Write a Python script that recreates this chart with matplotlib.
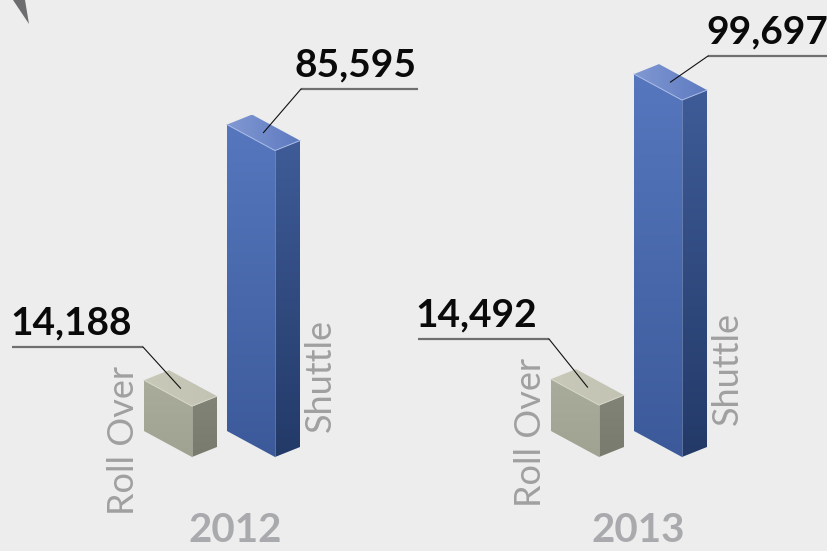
import numpy as np
import matplotlib
matplotlib.use("Agg")
import matplotlib.pyplot as plt
from matplotlib.patches import Polygon
from matplotlib.colors import LinearSegmentedColormap

# --- data ---
years = ["2012", "2013"]
categories = ["Roll Over", "Shuttle"]
values_2012 = [14188, 85595]
values_2013 = [14492, 99697]
value_labels_2012 = ["14,188", "85,595"]
value_labels_2013 = ["14,492", "99,697"]

# --- layout (pixel space, y down) ---
W, H = 827, 551
bg = "#ededed"
px_per_unit = 0.00358
base_y = 431           # front-left bottom corner of every box
group_x = [144, 551]   # left edge of first box in each group
box_offset = [0, 83]   # box offset inside a group
face_w, face_drop = 48, 26
side_w, side_rise = 25, 10

# value label anchors (underline left, underline y, underline right)
label_pos = {
    ("2012", 0): (12, 347, 143),
    ("2012", 1): (301, 89, 418),
    ("2013", 0): (418, 339, 549),
    ("2013", 1): (708, 56, 827),
}
text_x = {
    ("2012", 0): 10,
    ("2012", 1): 294,
    ("2013", 0): 415,
    ("2013", 1): 706,
}
cat_label_pos = {
    ("2012", 0): (134, 515),
    ("2012", 1): (331, 432),
    ("2013", 0): (541, 507),
    ("2013", 1): (738, 425),
}
year_x = [235, 638]

colors = {
    "Shuttle": dict(front=("#5677be", "#3c5a9a"), side=("#3f5c98", "#233a68"),
                    top=("#8199d3", "#5e7ac0"), edge="#a9bbe6"),
    "Roll Over": dict(front=("#a9ab9b", "#a0a292"), side=("#828377", "#7a7b6f"),
                      top=("#c8c9b9", "#c2c3b2"), edge="#d6d7c9"),
}

fig = plt.figure(figsize=(W / 100, H / 100), dpi=100, facecolor=bg)
ax = fig.add_axes([0, 0, 1, 1])
ax.set_facecolor(bg)


def grad_poly(pts, c1, c2, vertical=True, z=2):
    poly = Polygon(pts, closed=True, facecolor="none", edgecolor="none", zorder=z)
    ax.add_patch(poly)
    xs = [p[0] for p in pts]
    ys = [p[1] for p in pts]
    cmap = LinearSegmentedColormap.from_list("g", [c1, c2])
    g = np.linspace(0, 1, 256)
    img = g.reshape(-1, 1) if vertical else g.reshape(1, -1)
    im = ax.imshow(img, cmap=cmap, extent=(min(xs), max(xs), max(ys), min(ys)),
                   origin="upper", aspect="auto", zorder=z, interpolation="bilinear")
    im.set_clip_path(poly)
    return poly


def draw_box(x0, yb, h, cat):
    c = colors[cat]
    yt = yb - h
    front = [(x0, yt), (x0 + face_w, yt + face_drop), (x0 + face_w, yb + face_drop), (x0, yb)]
    side = [(x0 + face_w, yt + face_drop), (x0 + face_w + side_w, yt + face_drop - side_rise),
            (x0 + face_w + side_w, yb + face_drop - side_rise), (x0 + face_w, yb + face_drop)]
    top = [(x0, yt), (x0 + side_w, yt - side_rise),
           (x0 + face_w + side_w, yt + face_drop - side_rise), (x0 + face_w, yt + face_drop)]
    grad_poly(front, *c["front"], vertical=True)
    grad_poly(side, *c["side"], vertical=True)
    grad_poly(top, *c["top"], vertical=False)
    # light highlight edges
    ax.plot([top[0][0], top[3][0], top[2][0]], [top[0][1], top[3][1], top[2][1]],
            color=c["edge"], lw=0.7, zorder=3)
    ax.plot([top[3][0], front[2][0]], [top[3][1], front[2][1]], color=c["edge"], lw=0.5, alpha=0.6, zorder=3)
    cx = sum(p[0] for p in top) / 4
    cy = sum(p[1] for p in top) / 4
    return cx, cy


for gi, (yr, vals, labs) in enumerate(zip(years, [values_2012, values_2013],
                                          [value_labels_2012, value_labels_2013])):
    for ci, (cat, v, lab) in enumerate(zip(categories, vals, labs)):
        x0 = group_x[gi] + box_offset[ci]
        cx, cy = draw_box(x0, base_y, v * px_per_unit, cat)
        lx, ly, rx = label_pos[(yr, ci)]
        # underline + leader to top face
        ax.plot([lx, rx], [ly, ly], color="#6f6f6f", lw=1.6, zorder=4, solid_capstyle="butt")
        ax.plot([rx if ci == 0 else lx, cx], [ly, cy], color="#111111", lw=0.8, zorder=4)
        ax.text(text_x[(yr, ci)], ly - 13, lab, fontsize=28, fontweight="bold", family="Lato",
                color="#0a0a0a", ha="left", va="baseline", zorder=5)
        tx, ty = cat_label_pos[(yr, ci)]
        ax.text(tx, ty, cat, rotation=90, rotation_mode="anchor", ha="left", va="baseline",
                fontsize=26, fontweight="normal", family="Lato", color="#a0a0a0", zorder=5)
    ax.text(year_x[gi], 542, yr, fontsize=29, fontweight="bold", family="Lato",
            color="#a9aaad", ha="center", va="baseline", zorder=5)

# decorative corner mark
ax.add_patch(Polygon([(13, 0), (25, 0), (29, 24)], closed=True, facecolor="#6d6d70",
                     edgecolor="none", zorder=5))

ax.set_xlim(0, W)
ax.set_ylim(H, 0)
ax.axis("off")
fig.savefig("out.png", dpi=100, facecolor=bg)
